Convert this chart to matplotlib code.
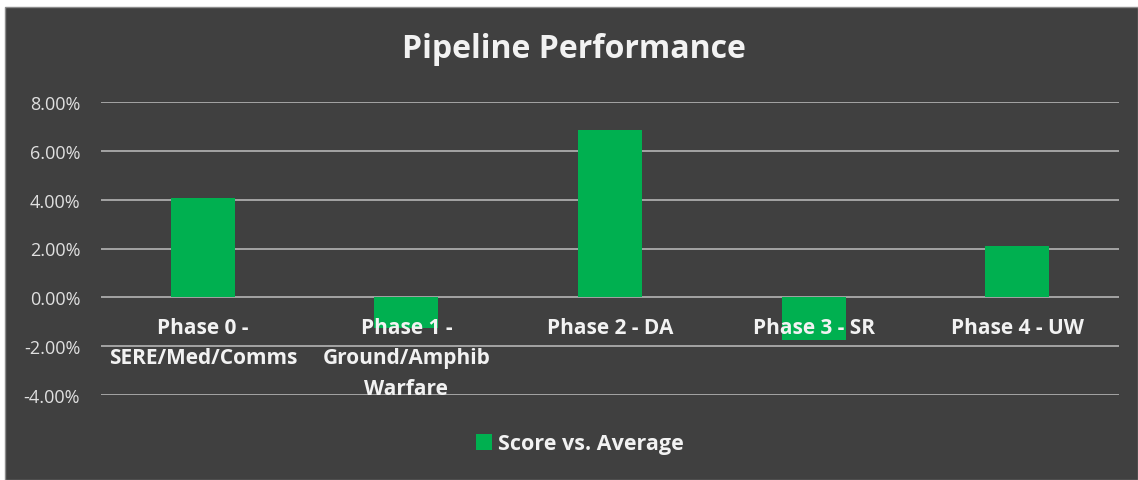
import matplotlib as mpl; mpl.use('Agg')
import matplotlib.pyplot as plt
import matplotlib.transforms as mtransforms
from matplotlib.patches import Rectangle
from matplotlib.ticker import FuncFormatter

mpl.rcParams.update({'font.family': ['Open Sans', 'DejaVu Sans']})

BG = '#404040'; GRN = '#00B050'; TXT = '#F2F2F2'; GRID = '#BFBFBF'

phases = ['Phase 0 -\nSERE/Med/Comms', 'Phase 1 -\nGround/Amphib\nWarfare', 'Phase 2 - DA',
          'Phase 3 - SR', 'Phase 4 - UW']
score_vs_avg = [0.0406, -0.0127, 0.0684, -0.0175, 0.0209]
yticks = [-0.04, -0.02, 0.0, 0.02, 0.04, 0.06, 0.08]

fig = plt.figure(figsize=(11.38, 4.81), dpi=100, facecolor='white')
fig.patches.append(Rectangle((5 / 1138, 0), 1 - 5 / 1138, 1 - 8 / 481, transform=fig.transFigure,
                             facecolor=BG, edgecolor='#8c8c8c', lw=1, zorder=-10))

ax = fig.add_axes([101 / 1138, 1 - 396 / 481, 1018 / 1138, 293 / 481])
ax.set_facecolor('none')
x = list(range(len(phases)))
ax.bar(x, score_vs_avg, width=0.315, color=GRN, zorder=2, label='Score vs. Average')
ax.set_xlim(-0.5, len(phases) - 0.5)
ax.set_ylim(-0.04, 0.08)
ax.set_yticks(yticks)
ax.yaxis.set_major_formatter(FuncFormatter(lambda v, p: f'{v * 100:.2f}%'))
ax.grid(axis='y', color=GRID, lw=1.1, zorder=1)
ax.tick_params(axis='y', length=0, pad=15, labelsize=13, labelcolor='#E0E0E0')
ax.tick_params(axis='x', length=0, labelbottom=False)
for s in ax.spines.values():
    s.set_visible(False)

# category labels sit just under the zero line, over the negative bars
off = mtransforms.offset_copy(ax.transData, fig=fig, x=0, y=-14, units='points')
for xi, lab in zip(x, phases):
    ax.text(xi, 0, lab, transform=off, ha='center', va='top', fontsize=15, fontweight='bold',
            color=TXT, linespacing=1.6, zorder=5)

fig.text(574 / 1138, 1 - 50 / 481, 'Pipeline Performance', ha='center', va='center', fontsize=23,
         fontweight='bold', color=TXT)
leg = fig.legend(loc='center', bbox_to_anchor=(580 / 1138, 1 - 445 / 481), frameon=False,
                 handlelength=0.75, handleheight=0.75, handletextpad=0.3,
                 prop={'size': 15.5, 'weight': 'bold'})
for t in leg.get_texts():
    t.set_color(TXT)

fig.savefig('out.png', dpi=100, facecolor='white')
